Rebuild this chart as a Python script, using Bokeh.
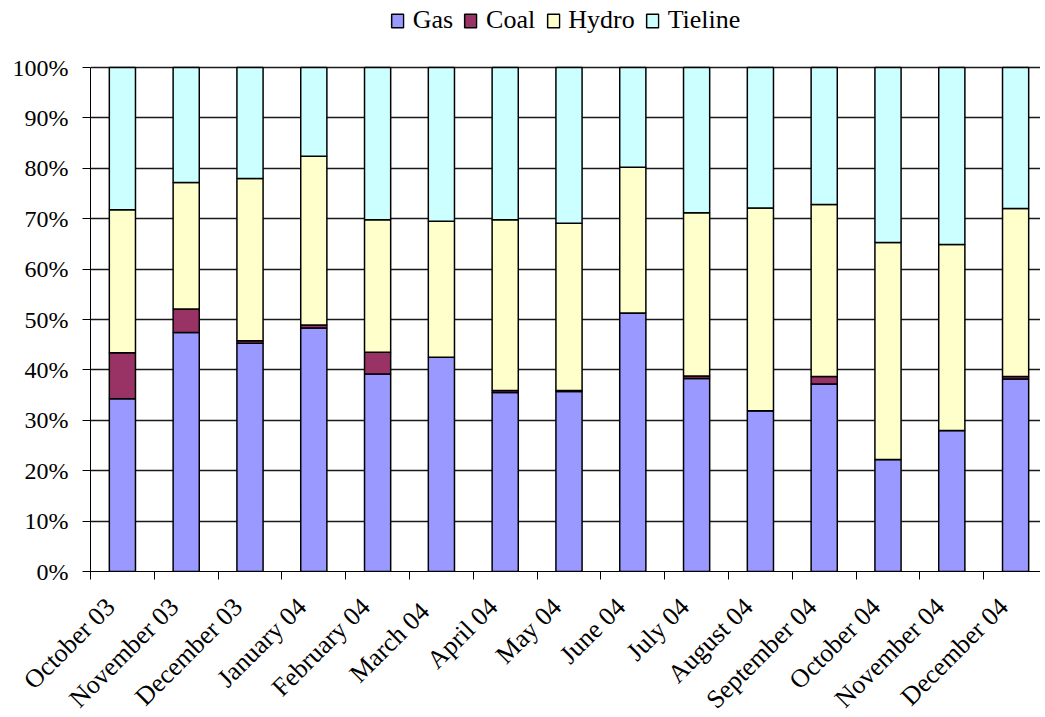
from math import pi
from bokeh.plotting import figure
from bokeh.models import (ColumnDataSource, Range1d, FixedTicker, PrintfTickFormatter, Legend,
                          CustomJSTickFormatter)
from bokeh.embed import file_html
from bokeh.resources import INLINE

months = ["October 03", "November 03", "December 03", "January 04", "February 04",
          "March  04", "April 04", "May 04", "June 04", "July 04", "August 04",
          "September 04", "October 04", "November 04", "December 04"]
gas = [34.3, 47.4, 45.3, 48.3, 39.2, 42.5, 35.5, 35.7, 51.3, 38.3, 31.9, 37.2, 22.2, 28.0, 38.2]
coal = [9.1, 4.7, 0.5, 0.6, 4.3, 0.0, 0.4, 0.2, 0.0, 0.5, 0.0, 1.5, 0.0, 0.0, 0.5]
hydro = [28.4, 25.1, 32.2, 33.5, 26.3, 27.0, 33.9, 33.2, 28.9, 32.4, 40.2, 34.1, 43.1, 36.9, 33.3]
tieline = [28.2, 22.8, 22.0, 17.6, 30.2, 30.5, 30.2, 30.9, 19.8, 28.8, 27.9, 27.2, 34.7, 35.1, 28.0]

series = ["Gas", "Coal", "Hydro", "Tieline"]
colors = ["#9999FF", "#993366", "#FFFFCC", "#CCFFFF"]

x = list(range(len(months)))
source = ColumnDataSource(dict(x=x, Gas=gas, Coal=coal, Hydro=hydro, Tieline=tieline))

FONT = "Liberation Serif"
HEAD = 67          # px between top of canvas and the 100 % line
LABEL_SHIFT = 0.1875

p = figure(frame_width=950, frame_height=504 + HEAD, x_range=Range1d(-0.5, -0.5 + 950 / 63.8),
           y_range=Range1d(0, 100 + HEAD * 100 / 504),
           output_backend="svg", toolbar_location=None,
           min_border_left=90, min_border_right=0, min_border_top=0, min_border_bottom=144)
p.outline_line_color = None
p.background_fill_color = "white"
p.border_fill_color = "white"

renderers = p.vbar_stack(series, x="x", width=0.41, color=colors, line_color="black",
                         line_width=1.5, source=source)

# grid
p.xgrid.grid_line_color = None
p.ygrid.grid_line_color = "#1a1a1a"
p.ygrid.grid_line_width = 1.3
p.ygrid.ticker = FixedTicker(ticks=list(range(0, 101, 10)))

# y axis
p.yaxis.bounds = (0, 100)
p.yaxis.ticker = FixedTicker(ticks=list(range(0, 101, 10)))
p.yaxis.formatter = PrintfTickFormatter(format="%d%%")
p.yaxis.major_tick_in = 0
p.yaxis.major_tick_out = 8
p.yaxis.minor_tick_line_color = None
p.yaxis.axis_line_color = "black"
p.yaxis.major_tick_line_color = "black"
p.yaxis.major_label_text_font = FONT
p.yaxis.major_label_text_font_size = "24px"
p.yaxis.major_label_text_color = "black"
p.yaxis.major_label_standoff = 14

# x axis: labels placed slightly left of bar centres, ticks on category boundaries
p.xaxis.ticker = FixedTicker(ticks=[i - LABEL_SHIFT for i in x],
                             minor_ticks=[i - 0.5 for i in range(len(months) + 1)])
p.xaxis.formatter = CustomJSTickFormatter(args=dict(labels=months, shift=LABEL_SHIFT),
                                          code="return labels[Math.round(tick + shift)];")
p.xaxis.major_tick_in = 0
p.xaxis.major_tick_out = 0
p.xaxis.minor_tick_in = 0
p.xaxis.minor_tick_out = 8
p.xaxis.minor_tick_line_color = "black"
p.xaxis.axis_line_color = "black"
p.xaxis.major_label_orientation = pi / 4
p.xaxis.major_label_text_font = FONT
p.xaxis.major_label_text_font_size = "26px"
p.xaxis.major_label_text_color = "black"
p.xaxis.major_label_standoff = 23

legend = Legend(items=[(s, [r]) for s, r in zip(series, renderers)],
                orientation="horizontal", location="top_center",
                label_text_font=FONT, label_text_font_size="26px", label_text_color="black",
                glyph_width=15, glyph_height=17, label_standoff=8, spacing=10,
                padding=0, margin=5, border_line_color=None, background_fill_alpha=0)
p.add_layout(legend, "center")

open("out.html", "w").write(file_html(p, INLINE))
